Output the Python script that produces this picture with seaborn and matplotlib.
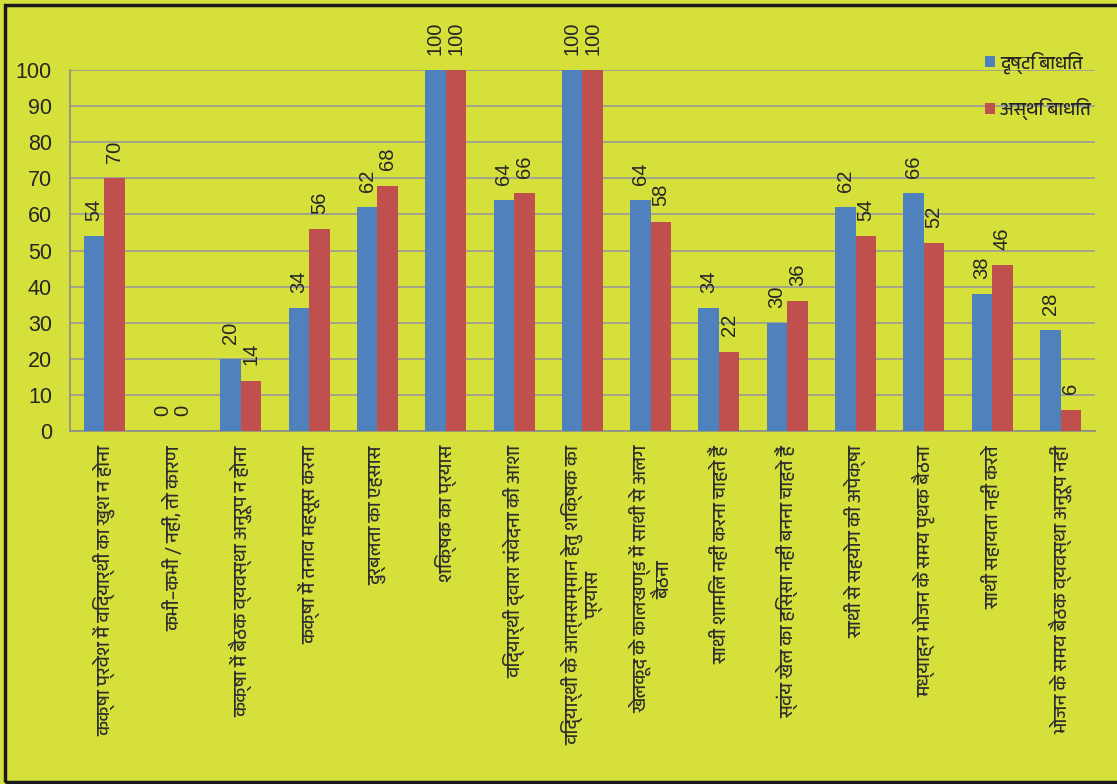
import pandas as pd
import matplotlib.pyplot as plt
import seaborn as sns
from matplotlib import font_manager
from matplotlib.ft2font import FT2Font
from matplotlib.patches import Rectangle

# data
categories = [
    'कक्षा प्रवेश में विद्यार्थी का खुश न होना',
    'कभी–कभी / नहीं, तो कारण',
    'कक्षा में बैठक व्यवस्था अनुरूप न होना',
    'कक्षा में तनाव महसूस करना',
    'दुर्बलता का एहसास',
    'शिक्षक का प्रयास',
    'विद्यार्थी द्वारा संवेदना की आशा',
    'विद्यार्थी के आत्मसम्मान हेतु शिक्षक का\nप्रयास',
    'खेलकूद के कालखण्ड में साथी से अलग\nबैठना',
    'साथी शामिल नहीं करना चाहते हैं',
    'स्वंय खेल का हिस्सा नहीं बनना चाहते हैं',
    'साथी से सहयोग की अपेक्षा',
    'मध्याह्न भोजन के समय पृथक बैठना',
    'साथी सहायता नहीं करते',
    'भोजन के समय बैठक व्यवस्था अनुरूप नहीं',
]
series_names = ['दृष्टि बाधित', 'अस्थि बाधित']
drishti = [54, 0, 20, 34, 62, 100, 64, 100, 64, 34, 30, 62, 66, 38, 28]
asthi = [70, 0, 14, 56, 68, 100, 66, 100, 58, 22, 36, 54, 52, 46, 6]
colors = ['#4f81bd', '#c0504d']
bg = '#d5e03b'


def find_deva_font():
    # pick any installed family that has Devanagari glyphs
    cands = sorted(font_manager.fontManager.ttflist,
                   key=lambda f: 'Devanagari' not in f.name)
    for f in cands:
        try:
            if FT2Font(f.fname).get_char_index(ord('क')):
                return f.name
        except Exception:
            pass
    return None


sns.set_theme(style='white')
deva = find_deva_font()
fams = ([deva] if deva else []) + ['DejaVu Sans']
plt.rcParams['font.family'] = fams

df = pd.DataFrame({
    'cat': categories * 2,
    'series': [series_names[0]] * len(categories) + [series_names[1]] * len(categories),
    'value': drishti + asthi,
})

fig = plt.figure(figsize=(11.17, 7.84), dpi=100, facecolor=bg)
ax = fig.add_axes([0.0627, 0.450, 0.9173, 0.4607])
ax.set_facecolor(bg)

sns.barplot(data=df, x='cat', y='value', hue='series', palette=colors,
            width=0.6, saturation=1, linewidth=0, ax=ax, zorder=3)

for cont in ax.containers:
    ax.bar_label(cont, fmt='%d', rotation=90, padding=11, fontsize=14.5,
                 family='Liberation Sans', clip_on=False)

ax.set_ylim(0, 100)
ax.set_xlim(-0.5, len(categories) - 0.5)
ax.set_yticks(range(0, 101, 10))
ax.yaxis.grid(True, color='#9a9a9a', lw=1.2, zorder=0)
ax.set_axisbelow(True)
ax.tick_params(axis='y', length=10, color='#8c8c8c', width=1.2, labelsize=15.5, pad=3)
for t in ax.get_yticklabels():
    t.set_family('Liberation Sans')

ax.set_xticks(range(len(categories)))
ax.set_xticklabels(categories, rotation=90, ha='center', va='top',
                   multialignment='center', fontsize=13.5, color='#2e2e2e')
ax.tick_params(axis='x', length=0, pad=10)
ax.set_xticks([i - 0.5 for i in range(len(categories) + 1)], minor=True)
ax.tick_params(axis='x', which='minor', length=7, color='#8c8c8c', width=1.2)

ax.set_xlabel('')
ax.set_ylabel('')
for side in ['top', 'right']:
    ax.spines[side].set_visible(False)
for side in ['left', 'bottom']:
    ax.spines[side].set_color('#8c8c8c')
    ax.spines[side].set_linewidth(1.2)

ax.legend(loc='upper left', bbox_to_anchor=(0.877, 1.097), frameon=False,
          fontsize=13, handlelength=0.55, handleheight=0.55, handletextpad=0.3,
          labelspacing=1.35)

# black frame round the chart
fig.patches.append(Rectangle((5 / 1117, 2 / 784), 1.1, 777 / 784,
                             transform=fig.transFigure, fill=False,
                             edgecolor='#1a1a1a', lw=2.5))

fig.savefig('out.png', dpi=100, facecolor=bg)
